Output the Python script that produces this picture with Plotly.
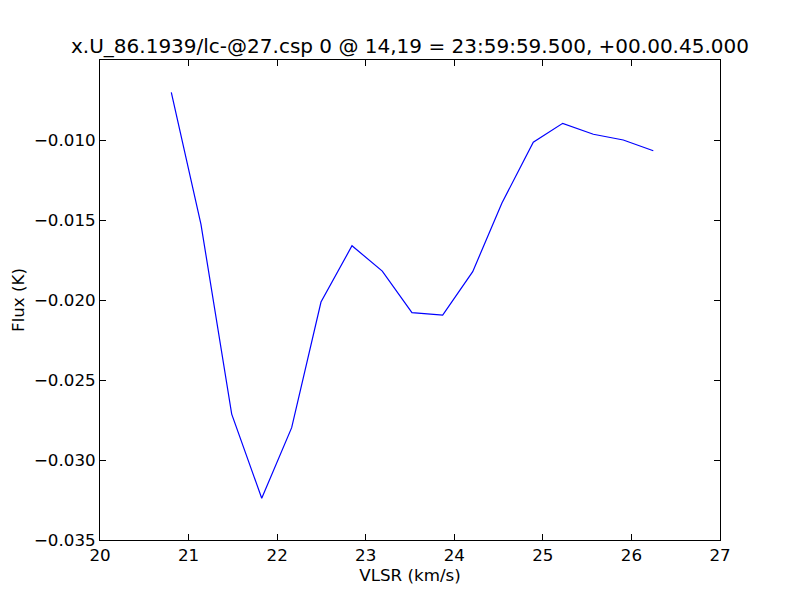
import plotly.graph_objects as go

vlsr = [20.805, 21.140, 21.487, 21.826, 22.164, 22.495, 22.845, 23.187, 23.522,
        23.869, 24.208, 24.538, 24.892, 25.224, 25.570, 25.908, 26.247]
flux = [-0.00702, -0.01527, -0.02713, -0.03239, -0.02798, -0.02013, -0.01661, -0.01819,
        -0.02079, -0.02094, -0.01823, -0.01394, -0.01014, -0.00896, -0.00964, -0.01000, -0.01067]

x_ticks = [20, 21, 22, 23, 24, 25, 26, 27]
y_ticks = [-0.035, -0.030, -0.025, -0.020, -0.015, -0.010]
y_tick_text = ["\u22120.035", "\u22120.030", "\u22120.025", "\u22120.020", "\u22120.015", "\u22120.010"]

title = "x.U_86.1939/lc-@27.csp 0 @ 14,19 = 23:59:59.500, +00.00.45.000"

fig = go.Figure()
fig.add_trace(go.Scatter(x=vlsr, y=flux, mode="lines",
                         line=dict(color="#0000ff", width=1.2), showlegend=False))

axis_common = dict(showgrid=False, zeroline=False, showline=True, linecolor="black",
                   linewidth=1, mirror="ticks", ticks="inside", ticklen=6,
                   tickcolor="black", tickwidth=1, automargin=False,
                   tickfont=dict(family="DejaVu Sans", size=16.7, color="black"))

fig.update_layout(
    width=800, height=600,
    paper_bgcolor="white", plot_bgcolor="white",
    margin=dict(l=92, r=88, t=52, b=68),
    font=dict(family="DejaVu Sans", color="black"),
    title=dict(text=title, x=0.5, xref="paper", y=0.937, yanchor="middle",
               font=dict(family="DejaVu Sans", size=20, color="black")),
    xaxis=dict(range=[20, 27], tickvals=x_ticks, ticktext=[str(v) for v in x_ticks],
               title=dict(text="VLSR (km/s)", font=dict(size=16.7), standoff=0), **axis_common),
    yaxis=dict(range=[-0.035, -0.005], tickvals=y_ticks, ticktext=y_tick_text,
               title=dict(text="Flux (K)", font=dict(size=16.7), standoff=6), **axis_common),
)

fig.write_html("out.html")
